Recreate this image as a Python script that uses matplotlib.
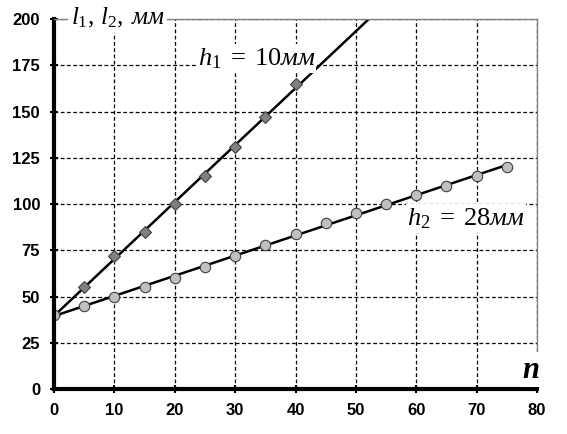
import matplotlib
matplotlib.use('Agg')
import matplotlib.pyplot as plt
import numpy as np

plt.rcParams['mathtext.fontset'] = 'custom'
plt.rcParams['mathtext.rm'] = 'Liberation Serif'
plt.rcParams['mathtext.it'] = 'Liberation Serif:italic'
plt.rcParams['mathtext.bf'] = 'Liberation Serif:bold:italic'

# h1 = 10 mm series (diamonds)
n1 = [0, 5, 10, 15, 20, 25, 30, 35, 40]
l1 = [40, 55, 72, 85, 100, 115, 131, 147, 165]
# h2 = 28 mm series (circles)
n2 = [0, 5, 10, 15, 20, 25, 30, 35, 40, 45, 50, 55, 60, 65, 70, 75]
l2 = [40, 45, 50, 55, 60, 66, 72, 78, 84, 90, 95, 100, 105, 110, 115, 120]

xticks = np.arange(0, 81, 10)
yticks = np.arange(0, 201, 25)

fig = plt.figure(figsize=(5.67, 4.34), dpi=100)
ax = fig.add_axes([0.0952, 0.1037, 0.852, 0.852])

# linear fits
k1, b1 = np.polyfit(n1, l1, 1)
k2, b2 = np.polyfit(n2, l2, 1)
xf1 = np.array([0, 80])
xf2 = np.array([0, n2[-1]])
ax.plot(xf1, k1 * xf1 + b1, color='black', lw=1.8, zorder=3)
ax.plot(xf2, k2 * xf2 + b2, color='black', lw=1.8, zorder=3)

ax.plot(n1, l1, linestyle='none', marker='D', ms=6.5, mfc='#808080',
        mec='#404040', mew=0.8, zorder=4)
ax.plot(n2, l2, linestyle='none', marker='o', ms=7.5, mfc='#c0c0c0',
        mec='#404040', mew=0.8, zorder=4)

ax.set_xlim(0, 80)
ax.set_ylim(0, 200)
ax.set_xticks(xticks)
ax.set_yticks(yticks)
ax.grid(True, color='black', linestyle=(0, (3, 2)), lw=0.9)

for lab in ax.get_xticklabels() + ax.get_yticklabels():
    lab.set_fontfamily('Liberation Sans')
    lab.set_fontweight('bold')
    lab.set_fontsize(12)
ax.tick_params(direction='inout', length=6, width=1.5, color='black', pad=7)

ax.spines['left'].set_linewidth(3)
ax.spines['bottom'].set_linewidth(3)
ax.spines['top'].set_color('#808080')
ax.spines['right'].set_color('#808080')
ax.spines['top'].set_linewidth(1)
ax.spines['right'].set_linewidth(1)
for s in ax.spines.values():
    s.set_zorder(5)

ax.text(2.8, 200.5, r'$l_1,\,l_2,\;\mathit{мм}$', fontsize=18, ha='left', va='center',
        bbox=dict(facecolor='white', edgecolor='none', pad=2), zorder=6)
ax.text(23.8, 175, r'$h_1\;=\;10\mathit{мм}$', fontsize=19, ha='left', va='baseline',
        bbox=dict(facecolor='white', edgecolor='none', pad=1), zorder=6)
ax.text(58.5, 88.5, r'$h_2\;=\;28\mathit{мм}$', fontsize=19, ha='left', va='baseline',
        bbox=dict(facecolor='white', edgecolor='none', pad=1), zorder=6)
ax.text(79.0, 10.5, r'$\mathbf{n}$', fontsize=22, ha='center', va='center',
        bbox=dict(facecolor='white', edgecolor='none', pad=2), zorder=6,
        clip_on=False)

fig.savefig('out.png', dpi=100)
